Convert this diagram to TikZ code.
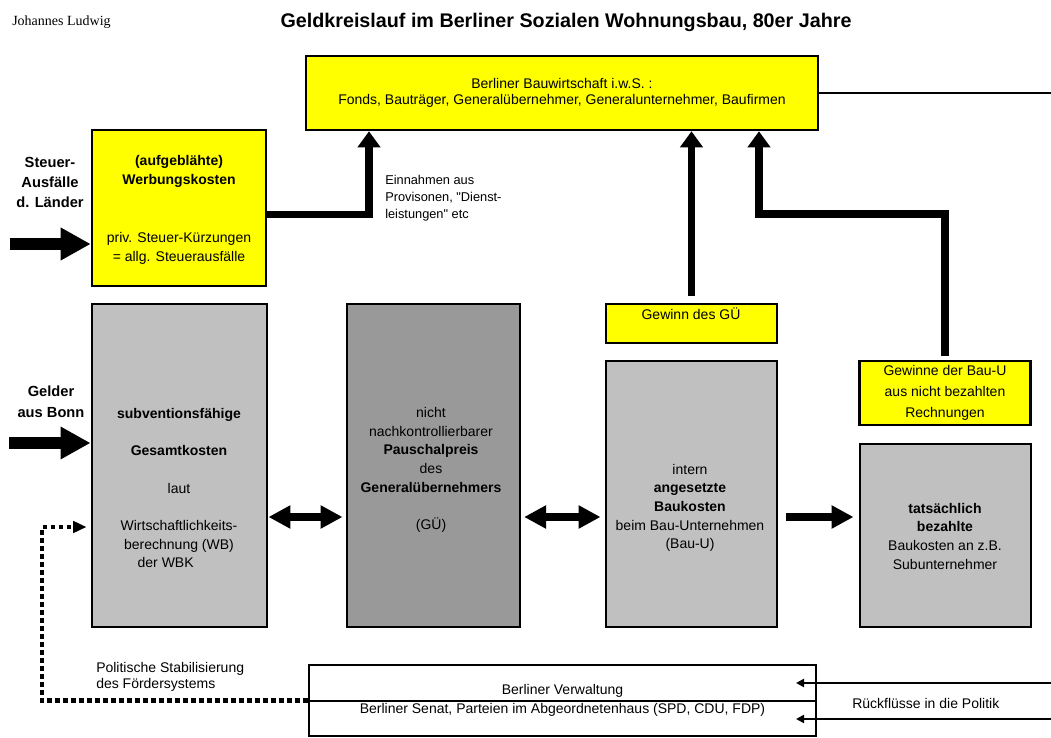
\documentclass[tikz,border=0pt]{standalone}
\usepackage{fontspec}
\setmainfont{Liberation Sans}
\newfontfamily\timesfont{Liberation Serif}
\usepackage{tikz}
\usetikzlibrary{arrows.meta,calc}
\definecolor{gelb}{HTML}{FFFF00}
\definecolor{hellgrau}{HTML}{C0C0C0}
\definecolor{dunkelgrau}{HTML}{999999}

\begin{document}
\begin{tikzpicture}[x=0.75pt,y=-0.75pt]
\pgfmathsetmacro{\yPf}{517}

\tikzstyle{box}=[draw,rectangle,line width=2.2pt,inner sep=0pt]
\tikzstyle{gelbbox}=[box,fill=gelb,line width=1.9pt]
\tikzstyle{txt}=[align=center,inner sep=0pt,font=\fontsize{10.5}{14}\selectfont]
\tikzstyle{fett}=[line width=8.4pt,-{Triangle[length=22.5pt,width=23pt]}]
\tikzstyle{balken}=[line width=5.6pt,-{Triangle[length=12pt,width=16.5pt]}]
\tikzstyle{doppel}=[line width=6pt,{Triangle[length=16.5pt,width=16.5pt]}-{Triangle[length=16.5pt,width=16.5pt]}]
\tikzstyle{punkt}=[line width=3.2pt,dash pattern=on 3.5pt off 2.5pt,-{Triangle[length=10pt,width=8.5pt]}]
\tikzstyle{linie}=[line width=2.2pt]
\tikzstyle{pfeilchen}=[line width=2.2pt,-{Triangle[length=6pt,width=6pt]}]

\fill[white] (0,0) rectangle (1051,738);
\useasboundingbox (0,0) rectangle (1051,738);

\node[anchor=west,inner sep=0pt,font=\timesfont\fontsize{10.5}{12}\selectfont] (autor) at (12,22) {Johannes Ludwig};
\node[inner sep=0pt,font=\bfseries\fontsize{14.8}{17}\selectfont] (titel) at (566,22) {Geldkreislauf im Berliner Sozialen Wohnungsbau, 80er Jahre};

\node[gelbbox,minimum width=384pt,minimum height=55.5pt,align=center,font=\fontsize{10.5}{12.5}\selectfont] (bw) at (562,93) {Berliner Bauwirtschaft i.w.S. :\\Fonds, Bauträger, Generalübernehmer, Generalunternehmer, Baufirmen};

\node[gelbbox,minimum width=130.5pt,minimum height=117pt] (wk) at (179,208) {};
\node[txt] (wk-txt) at (179,210) {\textbf{(aufgeblähte)}\\\textbf{Werbungskosten}\\[30pt]priv. Steuer-Kürzungen\\= allg. Steuerausfälle};

\node[gelbbox,minimum width=128.25pt,minimum height=29.25pt] (gue) at (691.5,323.5) {};
\node[txt] (gue-txt) at (691,314) {Gewinn des GÜ};
\node[gelbbox,minimum width=128.25pt,minimum height=48pt,align=center,font=\fontsize{10.5}{15.75}\selectfont] (gew) at (945,393) {Gewinne der Bau-U\\aus nicht bezahlten\\Rechnungen};

\node[box,fill=hellgrau,minimum width=131.25pt,minimum height=242.25pt] (gk) at (179.5,465.5) {};
\node[txt] (gk-txt) at (179,488) {\textbf{subventionsfähige}\\[14pt]\textbf{Gesamtkosten}\\[14pt]laut\\[14pt]Wirtschaftlichkeits-\\berechnung (WB)\\der WBK\hspace*{20pt}};

\node[box,fill=dunkelgrau,minimum width=129.75pt,minimum height=242.25pt] (pp) at (433.5,465.5) {};
\node[txt] (pp-txt) at (431,470) {nicht\\nachkontrollierbarer\\\textbf{Pauschalpreis}\\des\\\textbf{Generalübernehmers}\\[14pt](GÜ)};

\node[box,fill=hellgrau,minimum width=128.25pt,minimum height=199.5pt] (bk) at (691.5,494) {};
\node[txt] (bk-txt) at (690,508) {intern\\\textbf{angesetzte}\\\textbf{Baukosten}\\beim Bau-Unternehmen\\(Bau-U)};

\node[box,fill=hellgrau,minimum width=128.25pt,minimum height=137.25pt] (tb) at (945.5,535.5) {};
\node[txt] (tb-txt) at (945,536) {\textbf{tatsächlich}\\\textbf{bezahlte}\\Baukosten an z.B.\\Subunternehmer};

\node[box,line width=1.5pt,fill=white,minimum width=380.25pt,minimum height=53.25pt,align=center,font=\fontsize{10.5}{13.8}\selectfont] (senat) at (562.5,700.5) {Berliner Verwaltung\\Berliner Senat, Parteien im Abgeordnetenhaus (SPD, CDU, FDP)};
\draw[line width=1.5pt] (senat.west) -- (senat.east);

\node[align=center,inner sep=0pt,font=\bfseries\fontsize{11}{15}\selectfont] (steuer) at (50,182) {Steuer-\\Ausfälle\\d. Länder};
\node[align=center,inner sep=0pt,font=\bfseries\fontsize{11}{16}\selectfont] (bonn) at (51,402) {Gelder\\aus Bonn};
\node[anchor=west,align=left,inner sep=0pt,font=\fontsize{9.6}{12.75}\selectfont] (prov) at (385,198) {Einnahmen aus\\Provisonen, \textquotedbl Dienst-\\leistungen\textquotedbl{} etc};
\node[txt,anchor=west,align=left,font=\fontsize{10.5}{11.8}\selectfont] (polit) at (96,677) {Politische Stabilisierung\\des Fördersystems};
\node[txt,anchor=west] (rueck) at (852,703) {Rückflüsse in die Politik};

\coordinate (st) at (10,244);
\coordinate (gb) at (9,443);
\coordinate (knick) at (759,214);
\coordinate (ecke) at (42,527);
\coordinate (aus) at (1051,93);
\coordinate (r1) at (1051,683);
\coordinate (r2) at (1051,719);

\draw[fett] (st) -- (st -| wk.west);
\draw[fett] (gb) -- (gb -| gk.west);
\draw[balken] ([yshift=-4.7pt]wk.east) -| ([xshift=-144.75pt]bw.south);
\draw[balken,shorten <=5pt] (gue.north) -- (gue.north |- bw.south);
\draw[balken,shorten <=3pt] (gew.north) |- (knick) -- (knick |- bw.south);
\draw[linie] (bw.east) -- (aus);
\draw[doppel,shorten >=2.25pt] (gk.east |- 0,\yPf) -- (pp.west |- 0,\yPf);
\draw[doppel,shorten <=2pt,shorten >=3pt] (pp.east |- 0,\yPf) -- (bk.west |- 0,\yPf);
\draw[balken,line width=6pt,-{Triangle[length=16.5pt,width=16.5pt]},shorten <=6pt,shorten >=3.75pt] (bk.east |- 0,\yPf) -- (tb.west |- 0,\yPf);
\draw[punkt,shorten >=3pt] (senat.west) -| (ecke) -- (ecke -| gk.west);
\draw[pfeilchen] (r1) -- ($(r1 -| senat.east)+(-21,0)$);
\draw[pfeilchen] (r2) -- ($(r2 -| senat.east)+(-21,0)$);
\end{tikzpicture}
\end{document}
